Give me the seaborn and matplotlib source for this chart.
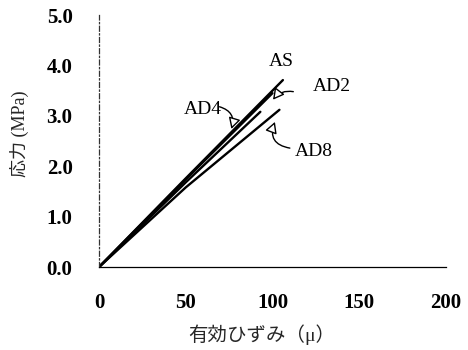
import matplotlib
matplotlib.use("Agg")
import matplotlib.pyplot as plt
import seaborn as sns
import pandas as pd

# Stress vs. effective strain for each specimen (start, mid, end points)
strain_AS = [0, 50, 106]
stress_AS = [0.0, 1.76, 3.71]
strain_AD2 = [0, 50, 100]
stress_AD2 = [0.0, 1.74, 3.45]
strain_AD4 = [0, 50, 93]
stress_AD4 = [0.0, 1.68, 3.08]
strain_AD8 = [0, 50, 104]
stress_AD8 = [0.0, 1.58, 3.12]

series_names = ["AS", "AD2", "AD4", "AD8"]
x_ticks = [0, 50, 100, 150, 200]
y_ticks = [0.0, 1.0, 2.0, 3.0, 4.0, 5.0]
x_label = "有効ひずみ（μ）"
y_label = "応力 (MPa)"

frames = []
for name, xs, ys in zip(series_names,
                        [strain_AS, strain_AD2, strain_AD4, strain_AD8],
                        [stress_AS, stress_AD2, stress_AD4, stress_AD8]):
    frames.append(pd.DataFrame({"strain": xs, "stress": ys, "specimen": name}))
df = pd.concat(frames, ignore_index=True)

sns.set_theme(style="white")
fonts = ["Liberation Serif", "Noto Sans CJK JP", "DejaVu Sans"]
plt.rcParams["font.family"] = fonts

fig = plt.figure(figsize=(4.68, 3.5), dpi=100)
ax = fig.add_axes([0.2115, 0.237, 0.7415, 0.72])

sns.lineplot(data=df, x="strain", y="stress", units="specimen",
             estimator=None, color="black", linewidth=1.7, ax=ax,
             legend=False, sort=False)

ax.set_xlim(0, 200)
ax.set_ylim(0, 5.0)
ax.set_xticks(x_ticks)
ax.set_yticks(y_ticks)
ax.set_xticklabels([str(v) for v in x_ticks], fontsize=15, fontweight="bold")
ax.set_yticklabels([f"{v:.1f}" for v in y_ticks], fontsize=15, fontweight="bold")
ax.tick_params(axis="both", direction="in", length=4, width=0.8,
               colors="black")
ax.tick_params(axis="y", pad=19)
ax.tick_params(axis="x", pad=19)

for side in ("top", "right"):
    ax.spines[side].set_visible(False)
ax.spines["bottom"].set_color("black")
ax.spines["bottom"].set_linewidth(0.9)
ax.spines["left"].set_color("#333333")
ax.spines["left"].set_linewidth(0.9)
ax.spines["left"].set_linestyle((0, (4, 2, 1, 2)))

ax.set_xlabel(x_label, fontsize=14)
ax.set_ylabel(y_label, fontsize=13)
ax.xaxis.set_label_coords(0.468, -0.27)
ax.yaxis.set_label_coords(-0.228, 0.53)
ax.yaxis.label.set_va("center")
ax.xaxis.label.set_va("center")

# Specimen labels with leader arrows
label_kw = dict(fontsize=14, color="black")
arrow = dict(arrowstyle="-|>,head_length=0.55,head_width=0.3", facecolor="white",
             edgecolor="black", linewidth=1.0, shrinkA=0, shrinkB=0)

ax.text(105, 4.07, "AS", ha="center", va="center", **label_kw)

ax.text(134.5, 3.59, "AD2", ha="center", va="center", **label_kw)
ax.annotate("", xy=(100.3, 3.32), xytext=(112, 3.48),
            arrowprops=dict(arrow, connectionstyle="arc3,rad=0.3"))

ax.text(60, 3.12, "AD4", ha="center", va="center", **label_kw)
ax.annotate("", xy=(76.3, 2.74), xytext=(69.5, 3.18),
            arrowprops=dict(arrow, connectionstyle="arc3,rad=-0.5"))

ax.text(124, 2.30, "AD8", ha="center", va="center", **label_kw)
ax.annotate("", xy=(101.4, 2.88), xytext=(110, 2.36),
            arrowprops=dict(arrow, connectionstyle="arc3,rad=-0.6"))

fig.savefig("out.png", dpi=100, facecolor="white")
